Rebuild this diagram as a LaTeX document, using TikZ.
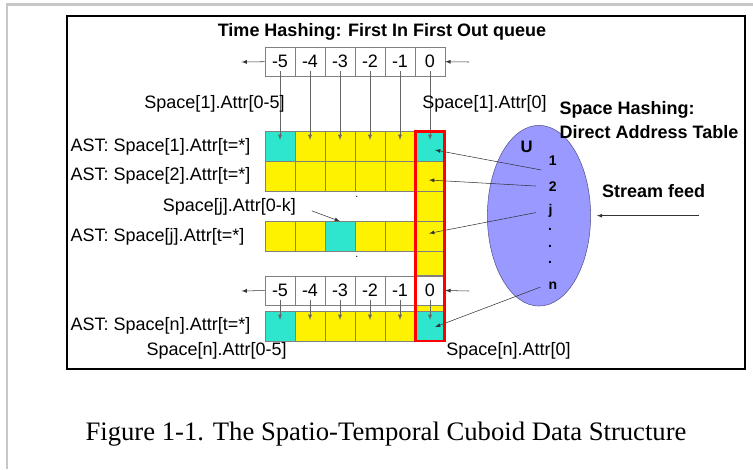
\documentclass[tikz,border=0pt]{standalone}
\usepackage{fontspec}
\setmainfont{Liberation Sans}
\newfontfamily\capfont{Liberation Serif}
\usetikzlibrary{arrows}
\usetikzlibrary{calc}
\usetikzlibrary{shapes.geometric}
\usepackage{xcolor}
\definecolor{cellcyan}{RGB}{45,230,205}
\definecolor{setblue}{RGB}{153,153,255}
\definecolor{pagegray}{RGB}{200,200,200}

\begin{document}
\begin{tikzpicture}[x=0.75pt,y=-0.75pt,
        every node/.style={font=\fontsize{13.5}{16}\selectfont},
        cell/.style={rectangle, draw=gray, inner sep=0pt, minimum width=22.5pt, minimum height=22.3pt},
        qcell/.style={cell, fill=white, minimum height=21.9pt},
        tick/.style={gray!80!black, -latex, shorten <=-4pt, shorten >=4.5pt},
        ptr/.style={black!80, -latex},
        idx/.style={font=\fontsize{10.5}{12}\selectfont\bfseries}]
        \useasboundingbox (0,0) rectangle (753,469);
        \draw[pagegray, line width=1.9pt] (7,469) -- (7,4.5) -- (753,4.5);
        \draw[line width=1.7pt] (67,16) rectangle (745,369);

        \node[font=\fontsize{13.5}{16}\selectfont\bfseries] (title) at (382,32) {Time Hashing: First In First Out queue};

        % column of the current time slot
        \fill[yellow] (415,131) rectangle (445,341);

        \foreach \i/\t in {1/-5,2/-4,3/-3,4/-2,5/-1,6/0} {
            \node[qcell] (q\i) at (250+30*\i,61.7) {\t};
            \node[qcell] (b\i) at (250+30*\i,290.5) {\t};
        }
        \foreach \i/\c in {1/cellcyan,2/yellow,3/yellow,4/yellow,5/yellow,6/cellcyan} {
            \node[cell, fill=\c] (r1c\i) at (250+30*\i,146) {};
            \node[cell, fill=\c] (rnc\i) at (250+30*\i,326) {};
        }
        \foreach \i in {1,...,6} {
            \node[cell, fill=yellow] (r2c\i) at (250+30*\i,176) {};
        }
        \foreach \i/\c in {1/yellow,2/yellow,3/cellcyan,4/yellow,5/yellow,6/yellow} {
            \node[cell, fill=\c] (rjc\i) at (250+30*\i,236.4) {};
        }
        \node[cell, fill=yellow] (m1c6) at (430,206.3) {};
        \node[cell, fill=yellow, minimum height=18.6pt] (m2c6) at (430,263.3) {};

        \foreach \i in {1,...,6} {
            \draw[tick] (q\i.south) -- (r1c\i.center);
            \draw[tick] (b\i.south) -- (rnc\i.center);
        }

        \coordinate (qout) at (241.6,62);
        \coordinate (qin) at (469,62);
        \coordinate (bout) at (241.6,291);
        \coordinate (bin) at (469,291);
        \draw[ptr] (q1.west) -- (qout);
        \draw[ptr] (qin) -- (q6.east);
        \draw[ptr] (b1.west) -- (bout);
        \draw[ptr] (bin) -- (b6.east);

        \node (s1range) at (214.5,104.3) {Space[1].Attr[0-5]};
        \node (s1now) at (484.5,104) {Space[1].Attr[0]};
        \node (sjrange) at (229.3,206.7) {Space[j].Attr[0-k]};
        \node (snrange) at (216.7,350.7) {Space[n].Attr[0-5]};
        \node (snnow) at (508.5,350.7) {Space[n].Attr[0]};

        \node[anchor=west] (ast1) at (66,146.7) {AST: Space[1].Attr[t=*]};
        \node[anchor=west] (ast2) at (66,176) {AST: Space[2].Attr[t=*]};
        \node[anchor=west] (astj) at (66,237.3) {AST: Space[j].Attr[t=*]};
        \node[anchor=west] (astn) at (66,326) {AST: Space[n].Attr[t=*]};

        \node[font=\fontsize{8}{8}\selectfont] (gap1) at (356.8,197) {.};
        \node[font=\fontsize{8}{8}\selectfont] (gap2) at (356.8,257) {.};
        \draw[ptr, shorten <=9pt] (sjrange.east) -- (rjc3.north);

        % space hashing
        \node[ellipse, draw=setblue!55!black, fill=setblue, inner sep=0pt,
              minimum width=77.4pt, minimum height=135.5pt] (univ) at (539,215.7) {};
        \node[font=\fontsize{13.5}{16}\selectfont\bfseries, anchor=west] (sh1) at (555,110) {Space Hashing:};
        \node[font=\fontsize{13.5}{16}\selectfont\bfseries, anchor=west] (sh2) at (555,131.7) {Direct Address Table};
        \node[font=\fontsize{12.5}{14}\selectfont\bfseries] (uname) at (526.7,146.7) {U};
        \node[idx] (k1) at (552.7,161) {1};
        \node[idx] (k2) at (552.7,186.5) {2};
        \node[idx] (kj) at (550.5,211) {j};
        \node[idx] (d1) at (550,229) {.};
        \node[idx] (d2) at (550,246) {.};
        \node[idx] (d3) at (550,262) {.};
        \node[idx] (kn) at (553,285.7) {n};

        \draw[ptr, shorten <=2pt] (k1.south west) -- ($(r1c6.center)+(5,4)$);
        \draw[ptr, shorten <=6pt] (k2.west) -- ($(r2c6.center)+(-1,4)$);
        \draw[ptr, shorten <=6pt] (kj.west) -- ($(rjc6.center)+(-1,-3)$);
        \draw[ptr, shorten <=3pt] (kn.west) -- ($(rnc6.center)+(5,1)$);

        \node[font=\fontsize{13.5}{16}\selectfont\bfseries] (feed) at (653.6,190.7) {Stream feed};
        \coordinate (src) at (699,215.7);
        \draw[ptr, shorten >=4.5pt] (src) -- (univ.east);

        \draw[red, line width=2.2pt] (415.3,131.3) rectangle (444.8,341);

        \node[font=\capfont\fontsize{20}{24}\selectfont] (caption) at (386,434) {Figure 1-1. The Spatio-Temporal Cuboid Data Structure};
    \end{tikzpicture}
\end{document}
